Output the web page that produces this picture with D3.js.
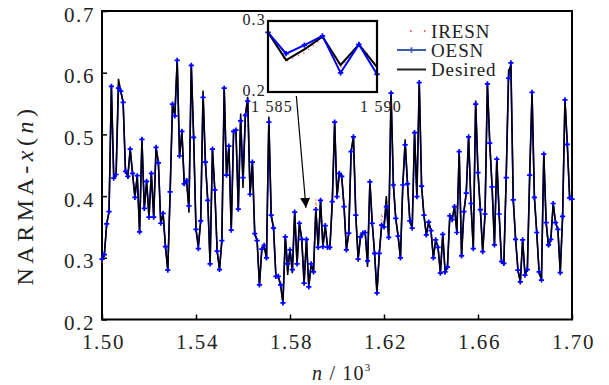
<!DOCTYPE html>
<html>
<head>
<meta charset="utf-8">
<script src="https://cdn.jsdelivr.net/npm/d3@7"></script>
<style>
  body { margin: 0; background: #fff; }
  svg { display: block; font-family: "Liberation Serif", "Times New Roman", serif; }
</style>
</head>
<body>
<svg id="chart" width="609" height="385"></svg>
<script>
// sample index n starts here, one sample per step
const nStart = 1500;
const xTicks = [1.50, 1.54, 1.58, 1.62, 1.66, 1.70];
const yTicks = [0.2, 0.3, 0.4, 0.5, 0.6, 0.7];
const seriesNames = ["IRESN", "OESN", "Desired"];

const oesn = [
  0.298, 0.305, 0.355, 0.375, 0.578, 0.429, 0.435, 0.575, 0.570, 0.552,
  0.440, 0.432, 0.476, 0.437, 0.398, 0.433, 0.342, 0.492, 0.380, 0.424,
  0.366, 0.437, 0.366, 0.479, 0.454, 0.356, 0.372, 0.318, 0.280, 0.407,
  0.549, 0.530, 0.620, 0.465, 0.505, 0.420, 0.425, 0.384, 0.612, 0.495,
  0.346, 0.315, 0.360, 0.560, 0.455, 0.393, 0.290, 0.476, 0.410, 0.311,
  0.281, 0.328, 0.575, 0.434, 0.481, 0.345, 0.505, 0.507, 0.379, 0.522,
  0.430, 0.531, 0.554, 0.403, 0.455, 0.339, 0.328, 0.256, 0.314, 0.320,
  0.300, 0.520, 0.369, 0.348, 0.270, 0.270, 0.256, 0.227, 0.334, 0.290,
  0.313, 0.281, 0.374, 0.290, 0.356, 0.330, 0.259, 0.330, 0.253, 0.290,
  0.277, 0.378, 0.317, 0.393, 0.318, 0.352, 0.317, 0.317, 0.391, 0.520,
  0.399, 0.437, 0.432, 0.383, 0.313, 0.340, 0.472, 0.496, 0.369, 0.298,
  0.334, 0.340, 0.341, 0.295, 0.423, 0.356, 0.307, 0.243, 0.307, 0.353,
  0.350, 0.383, 0.333, 0.567, 0.418, 0.364, 0.335, 0.300, 0.418, 0.483,
  0.420, 0.360, 0.348, 0.503, 0.399, 0.584, 0.416, 0.369, 0.337, 0.358,
  0.344, 0.300, 0.329, 0.317, 0.275, 0.338, 0.277, 0.285, 0.368, 0.362,
  0.383, 0.341, 0.472, 0.303, 0.375, 0.405, 0.496, 0.388, 0.315, 0.549,
  0.438, 0.378, 0.310, 0.371, 0.582, 0.486, 0.415, 0.321, 0.460, 0.371,
  0.294, 0.291, 0.430, 0.591, 0.616, 0.394, 0.330, 0.280, 0.261, 0.329,
  0.272, 0.281, 0.434, 0.568, 0.398, 0.341, 0.277, 0.264, 0.468, 0.357,
  0.321, 0.330, 0.388, 0.357, 0.346, 0.276, 0.367, 0.556, 0.484, 0.397,
  0.395
];

const desired = [
  0.296, 0.305, 0.355, 0.375, 0.578, 0.429, 0.435, 0.590, 0.570, 0.552,
  0.440, 0.432, 0.476, 0.437, 0.398, 0.433, 0.342, 0.492, 0.380, 0.424,
  0.366, 0.437, 0.366, 0.479, 0.454, 0.356, 0.372, 0.318, 0.280, 0.407,
  0.549, 0.530, 0.620, 0.465, 0.505, 0.420, 0.425, 0.373, 0.612, 0.495,
  0.346, 0.320, 0.360, 0.571, 0.455, 0.393, 0.290, 0.476, 0.410, 0.311,
  0.281, 0.328, 0.575, 0.434, 0.481, 0.345, 0.505, 0.507, 0.379, 0.534,
  0.413, 0.531, 0.561, 0.403, 0.455, 0.339, 0.328, 0.256, 0.314, 0.320,
  0.298, 0.529, 0.369, 0.348, 0.270, 0.270, 0.256, 0.227, 0.334, 0.272,
  0.313, 0.275, 0.374, 0.290, 0.356, 0.330, 0.259, 0.330, 0.253, 0.290,
  0.277, 0.378, 0.317, 0.393, 0.318, 0.352, 0.317, 0.317, 0.391, 0.520,
  0.399, 0.437, 0.432, 0.383, 0.313, 0.340, 0.472, 0.496, 0.369, 0.298,
  0.334, 0.340, 0.341, 0.285, 0.423, 0.356, 0.307, 0.243, 0.307, 0.353,
  0.350, 0.400, 0.333, 0.567, 0.418, 0.364, 0.335, 0.300, 0.418, 0.492,
  0.420, 0.360, 0.348, 0.503, 0.399, 0.584, 0.416, 0.369, 0.337, 0.358,
  0.344, 0.300, 0.329, 0.317, 0.275, 0.338, 0.277, 0.285, 0.368, 0.362,
  0.383, 0.341, 0.472, 0.303, 0.375, 0.405, 0.496, 0.388, 0.315, 0.555,
  0.438, 0.378, 0.310, 0.371, 0.582, 0.486, 0.415, 0.321, 0.460, 0.371,
  0.294, 0.291, 0.430, 0.604, 0.610, 0.394, 0.330, 0.280, 0.261, 0.329,
  0.272, 0.281, 0.434, 0.568, 0.398, 0.341, 0.277, 0.264, 0.468, 0.357,
  0.318, 0.330, 0.388, 0.357, 0.346, 0.276, 0.367, 0.556, 0.484, 0.397,
  0.395
];

const iresn = [
  0.292, 0.306, 0.354, 0.376, 0.576, 0.430, 0.436, 0.585, 0.568, 0.550,
  0.441, 0.430, 0.474, 0.432, 0.400, 0.431, 0.344, 0.490, 0.382, 0.422,
  0.370, 0.435, 0.368, 0.477, 0.456, 0.358, 0.370, 0.320, 0.282, 0.405,
  0.547, 0.532, 0.617, 0.467, 0.503, 0.422, 0.423, 0.376, 0.610, 0.497,
  0.348, 0.318, 0.362, 0.568, 0.453, 0.395, 0.292, 0.474, 0.412, 0.313,
  0.283, 0.330, 0.573, 0.436, 0.479, 0.347, 0.503, 0.505, 0.381, 0.530,
  0.416, 0.529, 0.558, 0.405, 0.453, 0.341, 0.330, 0.258, 0.316, 0.318,
  0.300, 0.525, 0.371, 0.350, 0.272, 0.268, 0.258, 0.229, 0.332, 0.276,
  0.315, 0.278, 0.372, 0.292, 0.354, 0.332, 0.261, 0.328, 0.255, 0.288,
  0.279, 0.395, 0.319, 0.391, 0.320, 0.350, 0.319, 0.315, 0.393, 0.518,
  0.401, 0.435, 0.434, 0.381, 0.315, 0.338, 0.470, 0.494, 0.371, 0.300,
  0.332, 0.342, 0.339, 0.288, 0.421, 0.358, 0.309, 0.245, 0.305, 0.372,
  0.352, 0.396, 0.335, 0.565, 0.420, 0.362, 0.337, 0.303, 0.416, 0.488,
  0.422, 0.358, 0.350, 0.501, 0.401, 0.580, 0.418, 0.367, 0.339, 0.356,
  0.346, 0.302, 0.327, 0.319, 0.277, 0.336, 0.279, 0.287, 0.366, 0.364,
  0.381, 0.343, 0.470, 0.305, 0.373, 0.407, 0.494, 0.390, 0.317, 0.552,
  0.436, 0.380, 0.312, 0.369, 0.578, 0.488, 0.413, 0.323, 0.458, 0.373,
  0.296, 0.289, 0.432, 0.600, 0.612, 0.396, 0.328, 0.282, 0.263, 0.327,
  0.274, 0.279, 0.436, 0.566, 0.400, 0.339, 0.279, 0.266, 0.466, 0.359,
  0.315, 0.332, 0.386, 0.359, 0.344, 0.278, 0.365, 0.554, 0.486, 0.395,
  0.397
];

// zoomed inset
const insetN = [1585, 1585.83, 1586.67, 1587.5, 1588.33, 1589.17, 1590];
const insetDesired = [0.284, 0.245, 0.260, 0.278, 0.238, 0.267, 0.235];
const insetOesn = [0.284, 0.254, 0.266, 0.279, 0.227, 0.267, 0.225];
const insetIresn = [0.285, 0.243, 0.255, 0.276, 0.234, 0.268, 0.237];
const insetXTicks = [1585, 1590];
const insetYTicks = [0.2, 0.3];
// arrow: from under the inset down to this point of the main plot
const arrowTip = [1.5868, 0.381];
const arrowFromN = 1586.3;

const svg = d3.select("#chart");
const blue = "#0000ff";
const font = "'Liberation Serif', 'Times New Roman', serif";

const x = d3.scaleLinear().domain([1.50, 1.70]).range([102, 572]);
const y = d3.scaleLinear().domain([0.2, 0.7]).range([319.5, 11]);

const toPoints = (vals) => vals.map((v, i) => [(nStart + i) / 1000, v]);

const line = d3.line().x((d) => x(d[0])).y((d) => y(d[1]));

// frame
svg.append("rect")
  .attr("x", x.range()[0]).attr("y", y.range()[1])
  .attr("width", x.range()[1] - x.range()[0])
  .attr("height", y.range()[0] - y.range()[1])
  .attr("fill", "none").attr("stroke", "#000").attr("stroke-width", 2);

// axes, ticks pointing inwards
const xAxis = svg.append("g")
  .attr("transform", `translate(0,${y.range()[0]})`)
  .call(d3.axisBottom(x).tickValues(xTicks).tickSize(-5).tickFormat(d3.format(".2f")));
const yAxis = svg.append("g")
  .attr("transform", `translate(${x.range()[0]},0)`)
  .call(d3.axisLeft(y).tickValues(yTicks).tickSize(-5).tickFormat(d3.format(".1f")));

[xAxis, yAxis].forEach((g) => {
  g.attr("font-family", null).attr("font-size", null);
  g.select(".domain").remove();
  g.selectAll(".tick line").attr("stroke", "#000").attr("stroke-width", 1.5);
  g.selectAll("text")
    .style("font-family", font).style("font-size", "21px")
    .attr("fill", "#222").style("letter-spacing", "1.6px");
});
xAxis.selectAll("text").attr("y", 29).attr("dy", 0).attr("dx", 1);
yAxis.selectAll("text").attr("x", -7).attr("dy", 10);

// series: red dotted under, blue, black, then blue markers
svg.append("path").datum(toPoints(iresn))
  .attr("d", line).attr("fill", "none")
  .attr("stroke", "#ff2a2a").attr("stroke-width", 1.3)
  .attr("stroke-dasharray", "1,4");
svg.append("path").datum(toPoints(oesn))
  .attr("d", line).attr("fill", "none")
  .attr("stroke", blue).attr("stroke-width", 1.6);
svg.append("path").datum(toPoints(desired))
  .attr("d", line).attr("fill", "none")
  .attr("stroke", "#000").attr("stroke-width", 1.5);
svg.append("g").selectAll("path")
  .data(toPoints(oesn))
  .join("path")
  .attr("transform", (d) => `translate(${x(d[0])},${y(d[1])})`)
  .attr("d", d3.symbol(d3.symbolCross, 15))
  .attr("fill", blue);

// inset
const ix = d3.scaleLinear().domain([1585, 1590]).range([268, 377]);
const iy = d3.scaleLinear().domain([0.2, 0.3]).range([92, 21]);
const iline = d3.line().x((d) => ix(d[0])).y((d) => iy(d[1]));
const inset = svg.append("g");
inset.append("rect")
  .attr("x", 268).attr("y", 21).attr("width", 109).attr("height", 71)
  .attr("fill", "#fff").attr("stroke", "none");
inset.append("path").datum(insetN.map((n, i) => [n, insetIresn[i]]))
  .attr("d", iline).attr("fill", "none")
  .attr("stroke", "#ff2a2a").attr("stroke-width", 1.3)
  .attr("stroke-dasharray", "1,5");
inset.append("path").datum(insetN.map((n, i) => [n, insetDesired[i]]))
  .attr("d", iline).attr("fill", "none")
  .attr("stroke", "#000").attr("stroke-width", 2);
inset.append("path").datum(insetN.map((n, i) => [n, insetOesn[i]]))
  .attr("d", iline).attr("fill", "none")
  .attr("stroke", blue).attr("stroke-width", 2);
inset.selectAll(".imark")
  .data(insetN.map((n, i) => [n, insetOesn[i]]))
  .join("path")
  .attr("class", "imark")
  .attr("transform", (d) => `translate(${ix(d[0])},${iy(d[1])})`)
  .attr("d", d3.symbol(d3.symbolCross, 16))
  .attr("fill", blue);
inset.append("rect")
  .attr("x", 268).attr("y", 21).attr("width", 109).attr("height", 71)
  .attr("fill", "none").attr("stroke", "#000").attr("stroke-width", 2.2);
inset.selectAll(".iylab")
  .data(insetYTicks)
  .join("text")
  .attr("class", "iylab")
  .attr("x", 266).attr("y", (d) => iy(d) + 4)
  .attr("text-anchor", "end")
  .style("font-family", font).style("font-size", "16px").attr("fill", "#222")
  .style("letter-spacing", "1.2px")
  .text((d) => d3.format(".1f")(d));
inset.selectAll(".ixlab")
  .data(insetXTicks)
  .join("text")
  .attr("class", "ixlab")
  .attr("x", (d) => ix(d) + 4).attr("y", 112)
  .attr("text-anchor", "middle")
  .style("font-family", font).style("font-size", "16px").attr("fill", "#222")
  .style("letter-spacing", "1.2px")
  .text((d) => d3.format(",")(d).replace(",", " "));

// arrow from the inset down into the plot
svg.append("defs").append("marker")
  .attr("id", "arrow")
  .attr("viewBox", "0 0 10 10")
  .attr("refX", 10).attr("refY", 5)
  .attr("markerUnits", "userSpaceOnUse")
  .attr("markerWidth", 10).attr("markerHeight", 12)
  .attr("orient", "auto")
  .append("path").attr("d", "M0,0 L10,5 L0,10 Z").attr("fill", "#000");
svg.append("line")
  .attr("x1", ix(arrowFromN)).attr("y1", iy(0.2) + 4)
  .attr("x2", x(arrowTip[0])).attr("y2", y(arrowTip[1]))
  .attr("stroke", "#000").attr("stroke-width", 1.2)
  .attr("marker-end", "url(#arrow)");

// legend
const legend = svg.append("g").style("font-family", font).style("font-size", "19px").attr("fill", "#222");
const legendY = [31, 50, 69.5];
seriesNames.forEach((name, i) => {
  const row = legend.append("g").attr("transform", `translate(0,${legendY[i]})`);
  if (name === "IRESN") {
    row.append("line").attr("x1", 410).attr("x2", 426).attr("y1", 0).attr("y2", 0)
      .attr("stroke", "#ff2a2a").attr("stroke-width", 1.5)
      .attr("stroke-dasharray", "1.5,12.5");
  } else if (name === "OESN") {
    row.append("line").attr("x1", 397).attr("x2", 426).attr("y1", 0).attr("y2", 0)
      .attr("stroke", "#3b5eaa").attr("stroke-width", 2);
    row.append("path").attr("transform", "translate(411.5,0)")
      .attr("d", d3.symbol(d3.symbolCross, 16)).attr("fill", "#3b5eaa");
  } else {
    row.append("line").attr("x1", 397).attr("x2", 426).attr("y1", 0).attr("y2", 0)
      .attr("stroke", "#222").attr("stroke-width", 2);
  }
  row.append("text").attr("x", 431).attr("y", 6.5)
    .style("letter-spacing", "0.9px").text(name);
});

// axis titles
const yTitle = svg.append("text")
  .attr("transform", "translate(33,195) rotate(-90)")
  .attr("text-anchor", "middle")
  .style("font-family", font).style("font-size", "24px").attr("fill", "#222")
  .style("letter-spacing", "4.5px");
yTitle.append("tspan").text("NARMA-");
yTitle.append("tspan").attr("font-style", "italic").text("x");
yTitle.append("tspan").text("(");
yTitle.append("tspan").attr("font-style", "italic").text("n");
yTitle.append("tspan").text(")");

const xTitle = svg.append("text")
  .attr("x", 312).attr("y", 380)
  .style("font-family", font).style("font-size", "20px").attr("fill", "#222")
  .style("letter-spacing", "1.2px");
xTitle.append("tspan").attr("font-style", "italic").text("n");
xTitle.append("tspan").text(" / 10");
xTitle.append("tspan").style("font-size", "11px").attr("dy", -9).text("3");
</script>
</body>
</html>
